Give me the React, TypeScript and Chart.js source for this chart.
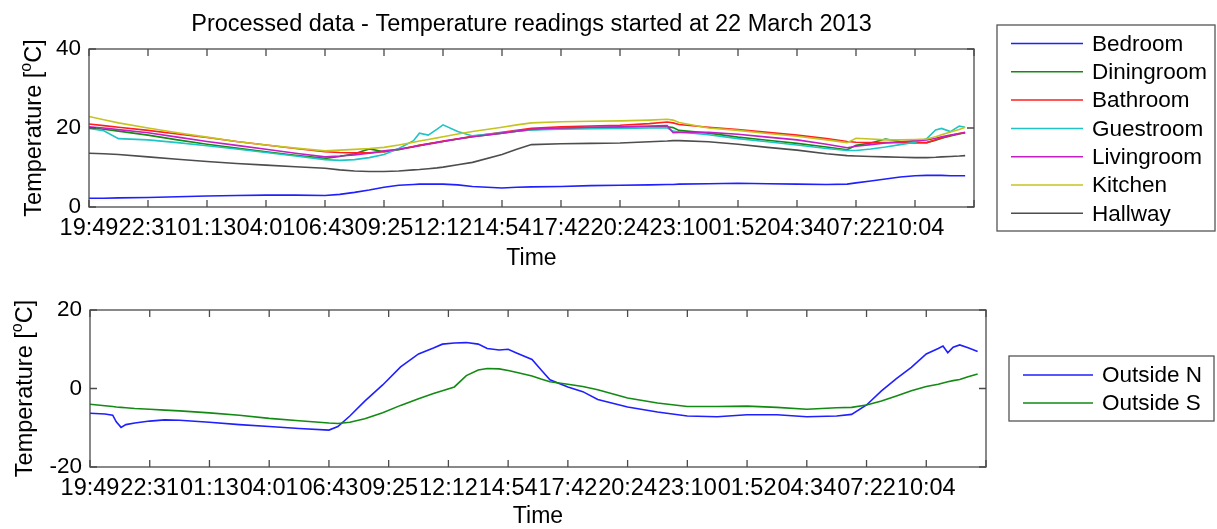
import React, { useEffect, useRef } from 'react';
import { Chart, registerables } from 'chart.js';

Chart.register(...registerables);

// ---------- data ----------
const TIME_LABELS = ['19:49', '22:31', '01:13', '04:01', '06:43', '09:25', '12:12', '14:54', '17:42', '20:24', '23:10', '01:52', '04:34', '07:22', '10:04'];

const ROOM_X = [0, 0.25, 0.5, 1, 1.5, 2, 2.5, 3, 3.5, 4, 4.25, 4.5, 4.75, 5, 5.25, 5.5, 5.6, 5.75, 5.9, 6, 6.25, 6.5, 7, 7.25, 7.5, 8, 8.5, 9, 9.5, 9.8, 9.9, 10, 10.5, 11, 11.5, 12, 12.5, 12.85, 13, 13.25, 13.5, 13.75, 14, 14.2, 14.35, 14.45, 14.6, 14.75, 14.85];

const BEDROOM = [2.2, 2.2, 2.3, 2.4, 2.6, 2.8, 2.9, 3.0, 3.0, 2.9, 3.2, 3.7, 4.3, 5.0, 5.5, 5.7, 5.8, 5.8, 5.8, 5.8, 5.6, 5.2, 4.8, 5.0, 5.1, 5.2, 5.4, 5.5, 5.6, 5.7, 5.7, 5.8, 5.9, 6.0, 5.9, 5.8, 5.7, 5.8, 6.1, 6.6, 7.1, 7.6, 7.9, 8.0, 8.0, 8.0, 7.9, 7.9, 7.9];
const DININGROOM = [20.1, 19.7, 19.2, 18.2, 17.0, 15.9, 14.9, 14.0, 13.1, 12.3, 12.8, 13.5, 14.7, 14.0, 14.5, 15.3, 15.6, 16.0, 16.4, 16.6, 17.2, 17.8, 18.7, 19.2, 19.6, 19.9, 20.1, 20.2, 20.3, 20.3, 20.1, 19.4, 18.7, 17.7, 16.9, 16.1, 15.2, 14.5, 15.6, 16.2, 17.2, 16.6, 16.4, 16.3, 16.9, 17.4, 18.0, 18.5, 18.8];
const BATHROOM = [21.0, 20.6, 20.2, 19.4, 18.5, 17.6, 16.6, 15.7, 14.8, 14.0, 13.8, 13.7, 13.7, 14.0, 14.6, 15.3, 15.6, 16.0, 16.4, 16.7, 17.3, 17.9, 18.9, 19.4, 19.9, 20.3, 20.5, 20.7, 21.1, 21.5, 21.3, 20.9, 20.2, 19.6, 18.9, 18.2, 17.3, 16.6, 16.4, 16.3, 16.3, 16.3, 16.2, 16.3, 17.0, 17.5, 18.1, 18.6, 18.9];
const GUESTROOM = [19.9, 19.3, 17.3, 17.0, 16.3, 15.5, 14.7, 13.8, 12.9, 12.0, 11.8, 12.0, 12.5, 13.3, 14.8, 16.8, 18.7, 18.2, 19.7, 20.8, 19.1, 18.0, 18.8, 19.2, 19.5, 19.7, 19.8, 19.9, 20.0, 20.0, 19.2, 19.0, 18.3, 17.3, 16.5, 15.7, 14.8, 14.3, 14.3, 14.7, 15.2, 15.8, 16.4, 17.3, 19.5, 19.9, 19.1, 20.5, 20.2];
const LIVINGROOM = [20.3, 20.0, 19.6, 18.8, 17.7, 16.6, 15.6, 14.6, 13.6, 12.7, 12.9, 13.2, 13.6, 14.2, 14.6, 15.2, 15.5, 15.9, 16.3, 16.6, 17.2, 17.8, 18.7, 19.2, 19.7, 20.0, 20.2, 20.3, 20.5, 20.6, 18.8, 18.9, 18.9, 18.4, 17.7, 17.0, 15.9, 15.0, 15.4, 15.8, 16.2, 16.5, 16.8, 17.0, 17.4, 17.8, 18.2, 18.6, 18.8];
const KITCHEN = [22.9, 22.1, 21.3, 20.0, 18.8, 17.7, 16.6, 15.7, 14.9, 14.2, 14.4, 14.6, 14.8, 15.1, 15.7, 16.4, 16.7, 17.1, 17.5, 17.8, 18.5, 19.1, 20.2, 20.8, 21.3, 21.6, 21.7, 21.8, 22.0, 22.2, 22.0, 21.4, 20.0, 19.4, 18.6, 17.9, 17.0, 16.3, 17.4, 17.2, 17.0, 17.0, 17.1, 17.2, 17.8, 18.3, 19.0, 19.6, 20.2];
const HALLWAY = [13.6, 13.5, 13.3, 12.7, 12.1, 11.5, 11.0, 10.6, 10.2, 9.8, 9.4, 9.1, 9.0, 9.0, 9.1, 9.4, 9.5, 9.7, 9.9, 10.1, 10.7, 11.3, 13.3, 14.6, 15.8, 16.0, 16.1, 16.2, 16.5, 16.7, 16.8, 16.8, 16.5, 15.9, 15.1, 14.4, 13.5, 13.0, 12.9, 12.8, 12.7, 12.6, 12.5, 12.5, 12.6, 12.7, 12.8, 12.9, 13.0];

const OUT_X = [0, 0.25, 0.38, 0.44, 0.52, 0.6, 0.75, 1, 1.25, 1.5, 2, 2.5, 3, 3.5, 4, 4.15, 4.35, 4.6, 4.9, 5.2, 5.5, 5.75, 5.9, 6.1, 6.3, 6.5, 6.65, 6.85, 7.0, 7.15, 7.4, 7.55, 7.7, 8, 8.25, 8.5, 9, 9.5, 10, 10.5, 11, 11.5, 12, 12.5, 12.75, 13, 13.25, 13.5, 13.75, 14, 14.2, 14.28, 14.36, 14.45, 14.56, 14.7, 14.86];
const OUTSIDE_N = [-6.3, -6.5, -6.8, -8.5, -9.9, -9.2, -8.8, -8.3, -8.0, -8.1, -8.6, -9.2, -9.7, -10.2, -10.6, -9.7, -7.0, -3.2, 0.9, 5.5, 8.8, 10.3, 11.3, 11.6, 11.7, 11.3, 10.2, 9.8, 10.0, 9.0, 7.4, 4.8, 2.2, 0.4, -0.8, -2.8, -4.7, -6.0, -7.0, -7.2, -6.7, -6.7, -7.2, -7.0, -6.6, -4.2, -0.6, 2.5, 5.4, 8.8, 10.2, 10.8, 9.1, 10.5, 11.1, 10.4, 9.4];
const OUTSIDE_S = [-4.0, -4.4, -4.6, -4.7, -4.8, -4.9, -5.1, -5.3, -5.5, -5.7, -6.2, -6.8, -7.6, -8.2, -8.8, -8.9, -8.6, -7.7, -6.2, -4.3, -2.6, -1.3, -0.6, 0.4, 3.3, 4.7, 5.1, 5.0, 4.6, 4.1, 3.2, 2.4, 1.7, 1.1, 0.5, -0.3, -2.4, -3.7, -4.6, -4.6, -4.5, -4.8, -5.3, -4.9, -4.8, -4.2, -3.2, -1.9, -0.6, 0.5, 1.1, 1.4, 1.7, 2.0, 2.3, 3.0, 3.7];

const ROOM_LABELS = ['Bedroom', 'Diningroom', 'Bathroom', 'Guestroom', 'Livingroom', 'Kitchen', 'Hallway'];
const OUT_LABELS = ['Outside N', 'Outside S'];
const TITLE = 'Processed data - Temperature readings started at 22 March 2013';

// ---------- styles ----------
const FONT = '"Liberation Sans", Arial, Helvetica, sans-serif';
const AXIS_COLOR = '#4a4a4a';
const ROOM_COLORS = ['#1f1fff', '#138a13', '#ff1f1f', '#1fc4c4', '#c41fc4', '#c4c41f', '#4d4d4d'];
const OUT_COLORS = ['#1f1fff', '#138a13'];

const decorPlugin = {
  id: 'decor',
  afterDraw(chart: any, _args: any, opts: any) {
    const { ctx, chartArea: a } = chart;
    const xs = chart.scales.x;
    const ys = chart.scales.y;
    ctx.save();
    // axes box
    ctx.strokeStyle = AXIS_COLOR;
    ctx.lineWidth = 1.3;
    ctx.strokeRect(a.left, a.top, a.right - a.left, a.bottom - a.top);
    // inward tick marks
    const L = opts.tickLen;
    ctx.beginPath();
    xs.ticks.forEach((t: any) => {
      const p = xs.getPixelForValue(t.value);
      ctx.moveTo(p, a.bottom);
      ctx.lineTo(p, a.bottom - L);
      ctx.moveTo(p, a.top);
      ctx.lineTo(p, a.top + L);
    });
    ys.ticks.forEach((t: any) => {
      const p = ys.getPixelForValue(t.value);
      ctx.moveTo(a.left, p);
      ctx.lineTo(a.left + L, p);
      ctx.moveTo(a.right, p);
      ctx.lineTo(a.right - L, p);
    });
    ctx.stroke();

    ctx.fillStyle = '#000';
    // title
    if (opts.title) {
      ctx.font = `23.5px ${FONT}`;
      ctx.textAlign = 'center';
      ctx.textBaseline = 'alphabetic';
      ctx.fillText(opts.title, (a.left + a.right) / 2, opts.titleY);
    }

    // y label with superscript
    {
      const main = `23.5px ${FONT}`;
      const sup = `16px ${FONT}`;
      const p1 = 'Temperature [';
      const p2 = 'o';
      const p3 = 'C]';
      ctx.font = main;
      const w1 = ctx.measureText(p1).width;
      const w3 = ctx.measureText(p3).width;
      ctx.font = sup;
      const w2 = ctx.measureText(p2).width;
      const total = w1 + w2 + w3;
      ctx.save();
      ctx.translate(opts.ylabelX, (a.top + a.bottom) / 2);
      ctx.rotate(-Math.PI / 2);
      ctx.textAlign = 'left';
      ctx.textBaseline = 'alphabetic';
      let x = -total / 2;
      ctx.font = main;
      ctx.fillText(p1, x, 0);
      x += w1;
      ctx.font = sup;
      ctx.fillText(p2, x, -10);
      x += w2;
      ctx.font = main;
      ctx.fillText(p3, x, 0);
      ctx.restore();
    }

    // legend
    const lg = opts.legend;
    ctx.fillStyle = '#fff';
    ctx.fillRect(lg.x0, lg.y0, lg.x1 - lg.x0, lg.y1 - lg.y0);
    ctx.strokeStyle = '#555';
    ctx.lineWidth = 1.3;
    ctx.strokeRect(lg.x0, lg.y0, lg.x1 - lg.x0, lg.y1 - lg.y0);
    ctx.font = `22.5px ${FONT}`;
    ctx.textAlign = 'left';
    ctx.textBaseline = 'middle';
    chart.data.datasets.forEach((ds: any, i: number) => {
      const y = lg.rowY0 + i * lg.rowStep;
      ctx.strokeStyle = ds.borderColor;
      ctx.lineWidth = 1.5;
      ctx.beginPath();
      ctx.moveTo(lg.lineX0, y);
      ctx.lineTo(lg.lineX1, y);
      ctx.stroke();
      ctx.fillStyle = '#000';
      ctx.fillText(ds.label, lg.textX, y + 1);
    });
    ctx.restore();
  },
};

function makeConfig(opt: {
  xs: number[];
  series: number[][];
  labels: string[];
  colors: string[];
  yMin: number;
  yMax: number;
  padding: { left: number; top: number; right: number; bottom: number };
  yWidth: number;
  xHeight: number;
  timePad: number;
  decor: any;
}): any {
  const n = opt.series.length;
  return {
    type: 'line',
    data: {
      datasets: opt.series.map((s, i) => ({
        label: opt.labels[i],
        data: opt.xs.map((x, j) => ({ x, y: s[j] })),
        borderColor: opt.colors[i],
        backgroundColor: opt.colors[i],
        borderWidth: 1.6,
        pointRadius: 0,
        tension: 0,
        fill: false,
        order: n - i,
      })),
    },
    options: {
      responsive: false,
      animation: false,
      devicePixelRatio: 1,
      events: [],
      layout: { padding: opt.padding },
      plugins: {
        legend: { display: false },
        title: { display: false },
        tooltip: { enabled: false },
        decor: opt.decor,
      },
      scales: {
        x: {
          type: 'linear',
          min: 0,
          max: 15,
          grid: { display: false, drawTicks: false },
          border: { display: false },
          ticks: {
            stepSize: 1,
            autoSkip: false,
            maxRotation: 0,
            minRotation: 0,
            padding: 7,
            color: '#000',
            font: { family: FONT, size: 23.5 },
            callback: (v: number) => (TIME_LABELS[v] !== undefined ? TIME_LABELS[v] : ''),
          },
          title: {
            display: true,
            text: 'Time',
            color: '#000',
            font: { family: FONT, size: 23, lineHeight: 1 },
            padding: { top: 0, bottom: opt.timePad },
          },
          afterFit: (s: any) => {
            s.height = opt.xHeight;
          },
        },
        y: {
          min: opt.yMin,
          max: opt.yMax,
          grid: { display: false, drawTicks: false },
          border: { display: false },
          ticks: {
            stepSize: 20,
            padding: 8,
            color: '#000',
            font: { family: FONT, size: 22.5 },
            callback: (v: number) => String(v),
          },
          afterFit: (s: any) => {
            s.width = opt.yWidth;
          },
        },
      },
    },
    plugins: [decorPlugin],
  };
}

export default function App() {
  const topRef = useRef<HTMLCanvasElement>(null);
  const botRef = useRef<HTMLCanvasElement>(null);

  useEffect(() => {
    const top = new Chart(
      topRef.current as HTMLCanvasElement,
      makeConfig({
        xs: ROOM_X,
        series: [BEDROOM, DININGROOM, BATHROOM, GUESTROOM, LIVINGROOM, KITCHEN, HALLWAY],
        labels: ROOM_LABELS,
        colors: ROOM_COLORS,
        yMin: 0,
        yMax: 40,
        padding: { left: 0, top: 49, right: 243, bottom: 0 },
        yWidth: 89,
        xHeight: 63,
        timePad: 0,
        decor: {
          tickLen: 7,
          title: TITLE,
          titleY: 31,
          ylabelX: 41,
          legend: { x0: 997, y0: 25, x1: 1215, y1: 231, lineX0: 1011, lineX1: 1083, textX: 1092, rowY0: 43.5, rowStep: 28.3 },
        },
      })
    );
    const bottom = new Chart(
      botRef.current as HTMLCanvasElement,
      makeConfig({
        xs: OUT_X,
        series: [OUTSIDE_N, OUTSIDE_S],
        labels: OUT_LABELS,
        colors: OUT_COLORS,
        yMin: -20,
        yMax: 20,
        padding: { left: 0, top: 40, right: 231, bottom: 0 },
        yWidth: 90,
        xHeight: 62,
        timePad: 1,
        decor: {
          tickLen: 7,
          title: null,
          titleY: 0,
          ylabelX: 32,
          legend: { x0: 1009, y0: 86, x1: 1214, y1: 151, lineX0: 1023, lineX1: 1093, textX: 1102, rowY0: 105, rowStep: 28 },
        },
      })
    );
    return () => {
      top.destroy();
      bottom.destroy();
    };
  }, []);

  return (
    <div style={{ position: 'absolute', left: 0, top: 0, width: 1217, height: 529, background: '#fff', overflow: 'hidden' }}>
      <canvas ref={topRef} width={1217} height={270} style={{ position: 'absolute', left: 0, top: 0, display: 'block' }} />
      <canvas ref={botRef} width={1217} height={259} style={{ position: 'absolute', left: 0, top: 270, display: 'block' }} />
    </div>
  );
}
